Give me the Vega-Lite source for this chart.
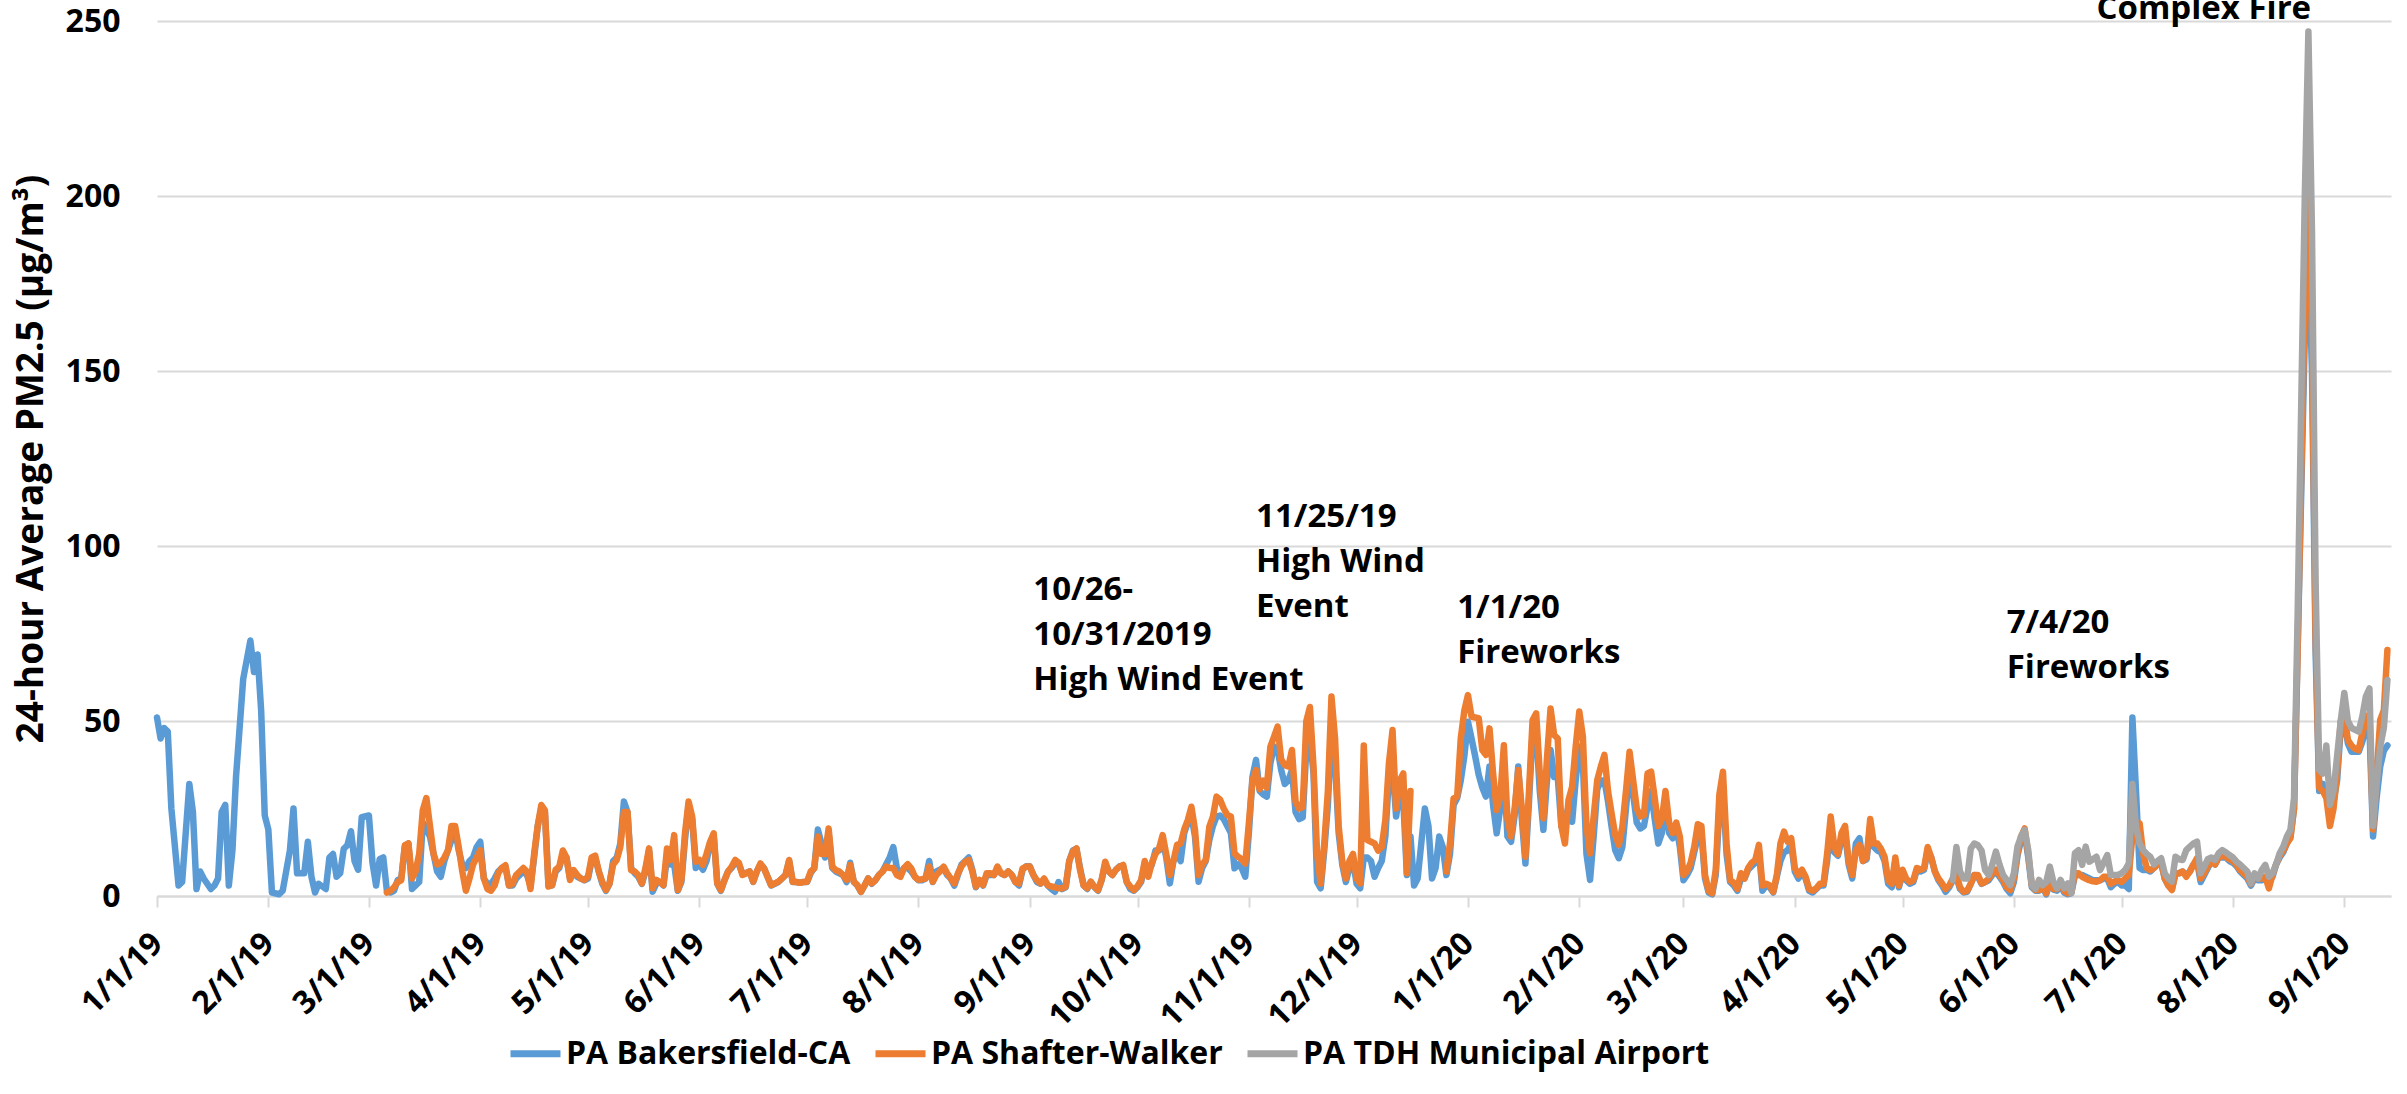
{
"$schema": "https://vega.github.io/schema/vega-lite/v6.json",
"width": 2234, "height": 875,
"autosize": {"type": "none"},
"padding": {"left": 157, "top": 21, "right": 16, "bottom": 198},
"background": "white",
"config": {"view": {"stroke": null}, "font": "Open Sans"},
"datasets": {
"pm": [
{"d":"2019-01-01T00:00","b":51},{"d":"2019-01-02T00:00","b":45},{"d":"2019-01-03T00:00","b":48},{"d":"2019-01-04T00:00","b":47},{"d":"2019-01-05T00:00","b":25},{"d":"2019-01-07T00:00","b":3},{"d":"2019-01-08T00:00","b":4},{"d":"2019-01-10T00:00","b":32},{"d":"2019-01-11T00:00","b":24},{"d":"2019-01-12T00:00","b":2},{"d":"2019-01-13T00:00","b":7},{"d":"2019-01-14T00:00","b":5},{"d":"2019-01-16T00:00","b":2},{"d":"2019-01-17T00:00","b":3},{"d":"2019-01-18T00:00","b":5},{"d":"2019-01-19T00:00","b":24},{"d":"2019-01-20T00:00","b":26},{"d":"2019-01-21T00:00","b":3},{"d":"2019-01-22T00:00","b":13},{"d":"2019-01-23T00:00","b":34},{"d":"2019-01-25T00:00","b":62},{"d":"2019-01-27T00:00","b":73},{"d":"2019-01-28T00:00","b":64},{"d":"2019-01-29T00:00","b":69},{"d":"2019-01-30T00:00","b":53},{"d":"2019-01-31T00:00","b":23},
{"d":"2019-02-01T00:00","b":19},{"d":"2019-02-02T00:00","b":1},{"d":"2019-02-04T00:00","b":0.5},{"d":"2019-02-05T00:00","b":1.5},{"d":"2019-02-07T00:00","b":13},{"d":"2019-02-08T00:00","b":25},{"d":"2019-02-09T00:00","b":6.5},{"d":"2019-02-11T00:00","b":6.5},{"d":"2019-02-12T00:00","b":15.5},{"d":"2019-02-13T00:00","b":5.5},{"d":"2019-02-14T00:00","b":1},{"d":"2019-02-15T00:00","b":3.5},{"d":"2019-02-17T00:00","b":2},{"d":"2019-02-18T00:00","b":11},{"d":"2019-02-19T00:00","b":12},{"d":"2019-02-20T00:00","b":5.5},{"d":"2019-02-21T00:00","b":6.5},{"d":"2019-02-22T00:00","b":13.5},{"d":"2019-02-23T00:00","b":14.5},{"d":"2019-02-24T00:00","b":18.5},{"d":"2019-02-25T00:00","b":10},{"d":"2019-02-26T00:00","b":7.5},{"d":"2019-02-27T00:00","b":22.5},
{"d":"2019-03-01T00:00","b":23},{"d":"2019-03-02T00:00","b":9.5},{"d":"2019-03-03T00:00","b":3},{"d":"2019-03-04T00:00","b":10.5},{"d":"2019-03-05T00:00","b":11},{"d":"2019-03-06T00:00","b":1.5,"s":1},{"d":"2019-03-07T00:00","b":1,"s":1.5},{"d":"2019-03-08T00:00","b":1.5,"s":2.5},{"d":"2019-03-09T00:00","b":4.5,"s":4},{"d":"2019-03-10T00:00","b":5,"s":4.5},{"d":"2019-03-11T00:00","b":14,"s":14.5},{"d":"2019-03-12T00:00","b":15,"s":15},{"d":"2019-03-13T00:00","b":2,"s":5},{"d":"2019-03-14T00:00","b":3,"s":7},{"d":"2019-03-15T00:00","b":4,"s":12},{"d":"2019-03-16T00:00","b":21,"s":24.5},{"d":"2019-03-17T00:00","b":19,"s":28},{"d":"2019-03-18T00:00","b":17,"s":20},{"d":"2019-03-19T00:00","b":12,"s":12},{"d":"2019-03-20T00:00","b":7,"s":9},{"d":"2019-03-21T00:00","b":5.5,"s":9.5},{"d":"2019-03-22T00:00","b":10,"s":11},{"d":"2019-03-23T00:00","b":13,"s":13},{"d":"2019-03-24T00:00","b":16,"s":20},{"d":"2019-03-25T00:00","b":19,"s":20},{"d":"2019-03-26T00:00","b":13,"s":14},{"d":"2019-03-27T00:00","b":9,"s":7},{"d":"2019-03-28T00:00","b":8,"s":1.5},{"d":"2019-03-29T00:00","b":10,"s":5},{"d":"2019-03-30T00:00","b":11,"s":9},{"d":"2019-03-31T00:00","b":14,"s":11},
{"d":"2019-04-01T00:00","b":15.5,"s":13},{"d":"2019-04-02T00:00","b":5,"s":5},{"d":"2019-04-03T00:00","b":3.5,"s":2},{"d":"2019-04-04T00:00","b":3.5,"s":1.5},{"d":"2019-04-05T00:00","b":5,"s":3},{"d":"2019-04-06T00:00","b":7,"s":6.5},{"d":"2019-04-07T00:00","b":8,"s":8},{"d":"2019-04-08T00:00","b":8.5,"s":8.8},{"d":"2019-04-09T00:00","b":3,"s":3},{"d":"2019-04-10T00:00","b":3,"s":3.5},{"d":"2019-04-11T00:00","b":5,"s":6},{"d":"2019-04-12T00:00","b":6,"s":7},{"d":"2019-04-13T00:00","b":7,"s":8},{"d":"2019-04-14T00:00","b":6,"s":7},{"d":"2019-04-15T00:00","b":3,"s":2},{"d":"2019-04-16T00:00","b":11,"s":12},{"d":"2019-04-17T00:00","b":20,"s":20},{"d":"2019-04-18T00:00","b":25,"s":26},{"d":"2019-04-19T00:00","b":24,"s":24.5},{"d":"2019-04-20T00:00","b":3,"s":2.7},{"d":"2019-04-21T00:00","b":3,"s":3.1},{"d":"2019-04-22T00:00","b":7,"s":7.5},{"d":"2019-04-23T00:00","b":8,"s":8.4},{"d":"2019-04-24T00:00","b":12,"s":13},{"d":"2019-04-25T00:00","b":11,"s":11},{"d":"2019-04-26T00:00","b":5,"s":4.6},{"d":"2019-04-27T00:00","b":6.5,"s":7.4},{"d":"2019-04-28T00:00","b":5.5,"s":6},{"d":"2019-04-29T00:00","b":5,"s":5},{"d":"2019-04-30T00:00","b":4.5,"s":4.6},
{"d":"2019-05-01T00:00","b":5,"s":5.5},{"d":"2019-05-02T00:00","b":10,"s":11},{"d":"2019-05-03T00:00","b":11,"s":11.5},{"d":"2019-05-04T00:00","b":7,"s":7},{"d":"2019-05-05T00:00","b":3.5,"s":4},{"d":"2019-05-06T00:00","b":1.5,"s":1.7},{"d":"2019-05-07T00:00","b":3.5,"s":3.6},{"d":"2019-05-08T00:00","b":10,"s":9},{"d":"2019-05-09T00:00","b":11,"s":10.3},{"d":"2019-05-10T00:00","b":15,"s":14},{"d":"2019-05-11T00:00","b":27,"s":24},{"d":"2019-05-12T00:00","b":24,"s":24},{"d":"2019-05-13T00:00","b":8,"s":7.4},{"d":"2019-05-14T00:00","b":6.5,"s":7},{"d":"2019-05-15T00:00","b":5.5,"s":6},{"d":"2019-05-16T00:00","b":3.5,"s":3.6},{"d":"2019-05-17T00:00","b":7,"s":8},{"d":"2019-05-18T00:00","b":13,"s":13.6},{"d":"2019-05-19T00:00","b":1.2,"s":2.2},{"d":"2019-05-20T00:00","b":3.5,"s":4.6},{"d":"2019-05-21T00:00","b":4,"s":4},{"d":"2019-05-22T00:00","b":3,"s":3.1},{"d":"2019-05-23T00:00","b":11,"s":13.6},{"d":"2019-05-24T00:00","b":9,"s":10.3},{"d":"2019-05-25T00:00","b":9,"s":17.4},{"d":"2019-05-26T00:00","b":1.5,"s":1.7},{"d":"2019-05-27T00:00","b":4,"s":4.6},{"d":"2019-05-28T00:00","b":16,"s":17.9},{"d":"2019-05-29T00:00","b":26,"s":27},{"d":"2019-05-30T00:00","b":22,"s":22.7},{"d":"2019-05-31T00:00","b":8,"s":9.8},
{"d":"2019-06-01T00:00","b":9,"s":10.3},{"d":"2019-06-02T00:00","b":7.5,"s":8.9},{"d":"2019-06-03T00:00","b":10,"s":12},{"d":"2019-06-04T00:00","b":15,"s":15.5},{"d":"2019-06-05T00:00","b":17,"s":17.9},{"d":"2019-06-06T00:00","b":3.5,"s":3.6},{"d":"2019-06-07T00:00","b":1.5,"s":1.7},{"d":"2019-06-08T00:00","b":4.5,"s":4.5},{"d":"2019-06-09T00:00","b":7,"s":7},{"d":"2019-06-10T00:00","b":8,"s":8.4},{"d":"2019-06-11T00:00","b":9.5,"s":10.3},{"d":"2019-06-12T00:00","b":9,"s":9.5},{"d":"2019-06-13T00:00","b":6.5,"s":6},{"d":"2019-06-14T00:00","b":6.5,"s":6.5},{"d":"2019-06-15T00:00","b":7,"s":7},{"d":"2019-06-16T00:00","b":4,"s":4.1},{"d":"2019-06-17T00:00","b":7,"s":7},{"d":"2019-06-18T00:00","b":9,"s":9.3},{"d":"2019-06-19T00:00","b":8,"s":7.9},{"d":"2019-06-20T00:00","b":5.5,"s":5.5},{"d":"2019-06-21T00:00","b":3,"s":3.1},{"d":"2019-06-22T00:00","b":3.5,"s":3.6},{"d":"2019-06-23T00:00","b":4,"s":4.1},{"d":"2019-06-24T00:00","b":5,"s":5},{"d":"2019-06-25T00:00","b":6,"s":6},{"d":"2019-06-26T00:00","b":10,"s":10.3},{"d":"2019-06-27T00:00","b":4,"s":4.1},{"d":"2019-06-28T00:00","b":4,"s":4},{"d":"2019-06-29T00:00","b":3.8,"s":3.8},{"d":"2019-06-30T00:00","b":4,"s":4},
{"d":"2019-07-01T00:00","b":4,"s":4.1},{"d":"2019-07-02T00:00","b":6.5,"s":7},{"d":"2019-07-03T00:00","b":8,"s":7.9},{"d":"2019-07-04T00:00","b":19,"s":17},{"d":"2019-07-05T00:00","b":15,"s":12},{"d":"2019-07-06T00:00","b":11,"s":12},{"d":"2019-07-07T00:00","b":18,"s":19.3},{"d":"2019-07-08T00:00","b":8,"s":8.4},{"d":"2019-07-09T00:00","b":7,"s":7.4},{"d":"2019-07-10T00:00","b":6.5,"s":7},{"d":"2019-07-11T00:00","b":6,"s":6},{"d":"2019-07-12T00:00","b":4,"s":4.6},{"d":"2019-07-13T00:00","b":9.5,"s":8.9},{"d":"2019-07-14T00:00","b":4,"s":4.1},{"d":"2019-07-15T00:00","b":3,"s":3.1},{"d":"2019-07-16T00:00","b":1.2,"s":1.2},{"d":"2019-07-17T00:00","b":3,"s":3},{"d":"2019-07-18T00:00","b":5,"s":5},{"d":"2019-07-19T00:00","b":3.5,"s":3.6},{"d":"2019-07-20T00:00","b":4.5,"s":4.5},{"d":"2019-07-21T00:00","b":6,"s":6},{"d":"2019-07-22T00:00","b":7,"s":7},{"d":"2019-07-23T00:00","b":9,"s":8.4},{"d":"2019-07-24T00:00","b":11,"s":8},{"d":"2019-07-25T00:00","b":14,"s":8},{"d":"2019-07-26T00:00","b":8,"s":6},{"d":"2019-07-27T00:00","b":6,"s":5.5},{"d":"2019-07-28T00:00","b":8,"s":8},{"d":"2019-07-29T00:00","b":8,"s":9.1},{"d":"2019-07-30T00:00","b":7,"s":7.9},{"d":"2019-07-31T00:00","b":5.5,"s":5.5},
{"d":"2019-08-01T00:00","b":4.5,"s":4.6},{"d":"2019-08-02T00:00","b":4.5,"s":4.8},{"d":"2019-08-03T00:00","b":5,"s":5},{"d":"2019-08-04T00:00","b":10,"s":8.4},{"d":"2019-08-05T00:00","b":4,"s":4.1},{"d":"2019-08-06T00:00","b":7,"s":6},{"d":"2019-08-07T00:00","b":7.5,"s":7},{"d":"2019-08-08T00:00","b":8,"s":8.4},{"d":"2019-08-09T00:00","b":6,"s":6.5},{"d":"2019-08-10T00:00","b":5,"s":5},{"d":"2019-08-11T00:00","b":3,"s":3.6},{"d":"2019-08-12T00:00","b":6,"s":6.5},{"d":"2019-08-13T00:00","b":9,"s":8.5},{"d":"2019-08-14T00:00","b":10,"s":9.8},{"d":"2019-08-15T00:00","b":11,"s":10.3},{"d":"2019-08-16T00:00","b":7.5,"s":7},{"d":"2019-08-17T00:00","b":2.5,"s":2.7},{"d":"2019-08-18T00:00","b":4.5,"s":4.6},{"d":"2019-08-19T00:00","b":3,"s":3.1},{"d":"2019-08-20T00:00","b":6,"s":6.5},{"d":"2019-08-21T00:00","b":6,"s":6.5},{"d":"2019-08-22T00:00","b":6,"s":6},{"d":"2019-08-23T00:00","b":7.5,"s":8.4},{"d":"2019-08-24T00:00","b":6.5,"s":6.5},{"d":"2019-08-25T00:00","b":6,"s":6},{"d":"2019-08-26T00:00","b":7,"s":7},{"d":"2019-08-27T00:00","b":6,"s":6},{"d":"2019-08-28T00:00","b":4,"s":4},{"d":"2019-08-29T00:00","b":3,"s":3.6},{"d":"2019-08-30T00:00","b":7.5,"s":7.9},{"d":"2019-08-31T00:00","b":8.5,"s":8.4},
{"d":"2019-09-01T00:00","b":8.5,"s":8.4},{"d":"2019-09-02T00:00","b":6,"s":6},{"d":"2019-09-03T00:00","b":4,"s":4.5},{"d":"2019-09-04T00:00","b":3.5,"s":3.6},{"d":"2019-09-05T00:00","b":4.5,"s":5},{"d":"2019-09-06T00:00","b":3,"s":3.1},{"d":"2019-09-07T00:00","b":2,"s":2.7},{"d":"2019-09-08T00:00","b":1.2,"s":2.5},{"d":"2019-09-09T00:00","b":4,"s":2.2},{"d":"2019-09-10T00:00","b":2,"s":2.2},{"d":"2019-09-11T00:00","b":2.5,"s":2.7},{"d":"2019-09-12T00:00","b":10,"s":10},{"d":"2019-09-13T00:00","b":13,"s":12.7},{"d":"2019-09-14T00:00","b":13.5,"s":13.6},{"d":"2019-09-15T00:00","b":8,"s":7.4},{"d":"2019-09-16T00:00","b":3,"s":3},{"d":"2019-09-17T00:00","b":2,"s":2.2},{"d":"2019-09-18T00:00","b":4,"s":4.1},{"d":"2019-09-19T00:00","b":2.5,"s":2.7},{"d":"2019-09-20T00:00","b":1.5,"s":1.7},{"d":"2019-09-21T00:00","b":4.5,"s":4.6},{"d":"2019-09-22T00:00","b":9,"s":9.8},{"d":"2019-09-23T00:00","b":7,"s":7},{"d":"2019-09-24T00:00","b":6,"s":6},{"d":"2019-09-25T00:00","b":7.5,"s":7.5},{"d":"2019-09-26T00:00","b":8.5,"s":8.4},{"d":"2019-09-27T00:00","b":8.5,"s":8.9},{"d":"2019-09-28T00:00","b":4,"s":4},{"d":"2019-09-29T00:00","b":2,"s":2.7},{"d":"2019-09-30T00:00","b":1.5,"s":1.7},
{"d":"2019-10-01T00:00","b":2.5,"s":2.8},{"d":"2019-10-02T00:00","b":4,"s":4.5},{"d":"2019-10-03T00:00","b":9,"s":10},{"d":"2019-10-04T00:00","b":7,"s":5.5},{"d":"2019-10-05T00:00","b":9,"s":9.5},{"d":"2019-10-06T00:00","b":13,"s":12},{"d":"2019-10-07T00:00","b":13,"s":13.6},{"d":"2019-10-08T00:00","b":16,"s":17.4},{"d":"2019-10-09T00:00","b":11,"s":12},{"d":"2019-10-10T00:00","b":3.6,"s":6},{"d":"2019-10-11T00:00","b":10,"s":10},{"d":"2019-10-12T00:00","b":12,"s":14.6},{"d":"2019-10-13T00:00","b":10,"s":15},{"d":"2019-10-14T00:00","b":18,"s":19},{"d":"2019-10-15T00:00","b":21,"s":21.7},{"d":"2019-10-16T00:00","b":23,"s":25.5},{"d":"2019-10-17T00:00","b":17,"s":18.9},{"d":"2019-10-18T00:00","b":4.1,"s":6},{"d":"2019-10-19T00:00","b":8,"s":9},{"d":"2019-10-20T00:00","b":10,"s":10.3},{"d":"2019-10-21T00:00","b":16,"s":19.8},{"d":"2019-10-22T00:00","b":20,"s":22.7},{"d":"2019-10-23T00:00","b":22.7,"s":28.4},{"d":"2019-10-24T00:00","b":23,"s":27.5},{"d":"2019-10-25T00:00","b":22,"s":25},{"d":"2019-10-26T00:00","b":20,"s":23.1},{"d":"2019-10-27T00:00","b":18,"s":22.7},{"d":"2019-10-28T00:00","b":7.9,"s":12.2},{"d":"2019-10-29T00:00","b":9,"s":11.2},{"d":"2019-10-30T00:00","b":8,"s":10.5},{"d":"2019-10-31T00:00","b":5.5,"s":9.3},
{"d":"2019-11-01T00:00","b":18,"s":20.8},{"d":"2019-11-02T00:00","b":34,"s":33},{"d":"2019-11-03T00:00","b":38.9,"s":36},{"d":"2019-11-04T00:00","b":30,"s":30.5},{"d":"2019-11-05T00:00","b":29,"s":33},{"d":"2019-11-06T00:00","b":28.4,"s":31},{"d":"2019-11-07T00:00","b":38,"s":42.7},{"d":"2019-11-08T00:00","b":42.7,"s":45.5},{"d":"2019-11-09T00:00","b":42,"s":48.4},{"d":"2019-11-10T00:00","b":36,"s":39},{"d":"2019-11-11T00:00","b":32,"s":37.4},{"d":"2019-11-12T00:00","b":33,"s":37},{"d":"2019-11-13T00:00","b":36,"s":41.7},{"d":"2019-11-14T00:00","b":24,"s":27},{"d":"2019-11-15T00:00","b":22,"s":25},{"d":"2019-11-16T00:00","b":22.5,"s":25.5},{"d":"2019-11-17T00:00","b":42,"s":50},{"d":"2019-11-18T00:00","b":45.5,"s":54},{"d":"2019-11-19T00:00","b":35,"s":37},{"d":"2019-11-20T00:00","b":4,"s":12},{"d":"2019-11-21T00:00","b":2.2,"s":3.6},{"d":"2019-11-22T00:00","b":13,"s":15},{"d":"2019-11-23T00:00","b":26,"s":30},{"d":"2019-11-24T00:00","b":48,"s":57},{"d":"2019-11-25T00:00","b":38,"s":45},{"d":"2019-11-26T00:00","b":18,"s":20},{"d":"2019-11-27T00:00","b":9,"s":10},{"d":"2019-11-28T00:00","b":4,"s":5},{"d":"2019-11-29T00:00","b":8,"s":10},{"d":"2019-11-30T00:00","b":10,"s":12},
{"d":"2019-12-01T00:00","b":3.5,"s":5},{"d":"2019-12-02T00:00","b":2.2,"s":3.6},{"d":"2019-12-03T00:00","b":11,"s":43},{"d":"2019-12-04T00:00","b":11,"s":16},{"d":"2019-12-05T00:00","b":10,"s":15.5},{"d":"2019-12-06T00:00","b":5.5,"s":15},{"d":"2019-12-07T00:00","b":8,"s":13},{"d":"2019-12-08T00:00","b":10,"s":14},{"d":"2019-12-09T00:00","b":17,"s":21.7},{"d":"2019-12-10T00:00","b":34,"s":38},{"d":"2019-12-11T00:00","b":37,"s":47.4},{"d":"2019-12-12T00:00","b":22.7,"s":25},{"d":"2019-12-13T00:00","b":30,"s":33},{"d":"2019-12-14T00:00","b":27,"s":35},{"d":"2019-12-15T00:00","b":6,"s":6.5},{"d":"2019-12-16T00:00","b":17,"s":30},{"d":"2019-12-17T00:00","b":3,"s":null},{"d":"2019-12-18T00:00","b":5},{"d":"2019-12-19T00:00","b":15},{"d":"2019-12-20T00:00","b":25},{"d":"2019-12-21T00:00","b":20},{"d":"2019-12-22T00:00","b":5},{"d":"2019-12-23T00:00","b":8},{"d":"2019-12-24T00:00","b":17},{"d":"2019-12-25T00:00","b":14,"s":null},{"d":"2019-12-26T00:00","b":6,"s":7},{"d":"2019-12-27T00:00","b":12,"s":15},{"d":"2019-12-28T00:00","b":26,"s":27.9},{"d":"2019-12-29T00:00","b":28,"s":28.4},{"d":"2019-12-30T00:00","b":33,"s":45},{"d":"2019-12-31T00:00","b":40,"s":53},
{"d":"2020-01-01T00:00","b":49.8,"s":57.4},{"d":"2020-01-02T00:00","b":45,"s":51.2},{"d":"2020-01-03T00:00","b":40,"s":51},{"d":"2020-01-04T00:00","b":34.6,"s":50.8},{"d":"2020-01-05T00:00","b":31,"s":41.7},{"d":"2020-01-06T00:00","b":28.4,"s":40.3},{"d":"2020-01-07T00:00","b":37,"s":47.9},{"d":"2020-01-08T00:00","b":26,"s":35},{"d":"2020-01-09T00:00","b":17.9,"s":24.6},{"d":"2020-01-10T00:00","b":25,"s":28.4},{"d":"2020-01-11T00:00","b":36,"s":43.1},{"d":"2020-01-12T00:00","b":17,"s":22},{"d":"2020-01-13T00:00","b":15.5,"s":17},{"d":"2020-01-14T00:00","b":23,"s":25},{"d":"2020-01-15T00:00","b":37,"s":36},{"d":"2020-01-16T00:00","b":22,"s":25},{"d":"2020-01-17T00:00","b":9.3,"s":11.2},{"d":"2020-01-18T00:00","b":27,"s":30},{"d":"2020-01-19T00:00","b":47,"s":50.3},{"d":"2020-01-20T00:00","b":47,"s":52.2},{"d":"2020-01-21T00:00","b":30,"s":35},{"d":"2020-01-22T00:00","b":18.9,"s":22.2},{"d":"2020-01-23T00:00","b":33,"s":39.3},{"d":"2020-01-24T00:00","b":41.7,"s":53.6},{"d":"2020-01-25T00:00","b":34,"s":46},{"d":"2020-01-26T00:00","b":34,"s":45},{"d":"2020-01-27T00:00","b":20,"s":20},{"d":"2020-01-28T00:00","b":21.7,"s":15},{"d":"2020-01-29T00:00","b":25.5,"s":27.4},{"d":"2020-01-30T00:00","b":21.2,"s":31.2},{"d":"2020-01-31T00:00","b":33,"s":42.7},
{"d":"2020-02-01T00:00","b":42.7,"s":52.7},{"d":"2020-02-02T00:00","b":38,"s":45.5},{"d":"2020-02-03T00:00","b":12,"s":20},{"d":"2020-02-04T00:00","b":4.6,"s":12.2},{"d":"2020-02-05T00:00","b":17,"s":22.7},{"d":"2020-02-06T00:00","b":30.5,"s":33.1},{"d":"2020-02-07T00:00","b":33,"s":37},{"d":"2020-02-08T00:00","b":33,"s":40.3},{"d":"2020-02-09T00:00","b":27,"s":30},{"d":"2020-02-10T00:00","b":19.8,"s":23.6},{"d":"2020-02-11T00:00","b":13.1,"s":17.4},{"d":"2020-02-12T00:00","b":10.8,"s":14.6},{"d":"2020-02-13T00:00","b":14,"s":19.8},{"d":"2020-02-14T00:00","b":25,"s":30},{"d":"2020-02-15T00:00","b":36,"s":41.2},{"d":"2020-02-16T00:00","b":29,"s":33},{"d":"2020-02-17T00:00","b":21,"s":25},{"d":"2020-02-18T00:00","b":19.3,"s":22.7},{"d":"2020-02-19T00:00","b":20,"s":23.1},{"d":"2020-02-20T00:00","b":25.5,"s":35},{"d":"2020-02-21T00:00","b":30,"s":35.5},{"d":"2020-02-22T00:00","b":22,"s":28},{"d":"2020-02-23T00:00","b":15,"s":20},{"d":"2020-02-24T00:00","b":18,"s":22},{"d":"2020-02-25T00:00","b":28,"s":30},{"d":"2020-02-26T00:00","b":18,"s":21},{"d":"2020-02-27T00:00","b":16.5,"s":18},{"d":"2020-02-28T00:00","b":20,"s":21},{"d":"2020-02-29T00:00","b":14,"s":17},
{"d":"2020-03-01T00:00","b":4.5,"s":6},{"d":"2020-03-02T00:00","b":6,"s":7},{"d":"2020-03-03T00:00","b":8,"s":9.5},{"d":"2020-03-04T00:00","b":12.5,"s":14},{"d":"2020-03-05T00:00","b":17,"s":20.5},{"d":"2020-03-06T00:00","b":18,"s":20},{"d":"2020-03-07T00:00","b":5,"s":6},{"d":"2020-03-08T00:00","b":1,"s":1.5},{"d":"2020-03-09T00:00","b":0.5,"s":0.8},{"d":"2020-03-10T00:00","b":6,"s":7.5},{"d":"2020-03-11T00:00","b":25,"s":29},{"d":"2020-03-12T00:00","b":30,"s":35.5},{"d":"2020-03-13T00:00","b":12,"s":15},{"d":"2020-03-14T00:00","b":4,"s":4.5},{"d":"2020-03-15T00:00","b":3,"s":3.8},{"d":"2020-03-16T00:00","b":1.5,"s":2},{"d":"2020-03-17T00:00","b":5,"s":6.5},{"d":"2020-03-18T00:00","b":5,"s":5},{"d":"2020-03-19T00:00","b":7.5,"s":8},{"d":"2020-03-20T00:00","b":8.5,"s":9.5},{"d":"2020-03-21T00:00","b":9.5,"s":10.3},{"d":"2020-03-22T00:00","b":13,"s":14.6},{"d":"2020-03-23T00:00","b":1.5,"s":3},{"d":"2020-03-24T00:00","b":3,"s":3.5},{"d":"2020-03-25T00:00","b":2.5,"s":3},{"d":"2020-03-26T00:00","b":1,"s":1.2},{"d":"2020-03-27T00:00","b":5.5,"s":6},{"d":"2020-03-28T00:00","b":10,"s":15},{"d":"2020-03-29T00:00","b":12.5,"s":18.4},{"d":"2020-03-30T00:00","b":13,"s":15.5},{"d":"2020-03-31T00:00","b":15,"s":16.5},
{"d":"2020-04-01T00:00","b":7,"s":8},{"d":"2020-04-02T00:00","b":5,"s":6},{"d":"2020-04-03T00:00","b":6.5,"s":7.5},{"d":"2020-04-04T00:00","b":5,"s":5.5},{"d":"2020-04-05T00:00","b":1.5,"s":2},{"d":"2020-04-06T00:00","b":1,"s":1.5},{"d":"2020-04-07T00:00","b":2,"s":2.2},{"d":"2020-04-08T00:00","b":3,"s":3.5},{"d":"2020-04-09T00:00","b":3,"s":3.5},{"d":"2020-04-10T00:00","b":10,"s":12},{"d":"2020-04-11T00:00","b":20,"s":22.7},{"d":"2020-04-12T00:00","b":12.5,"s":14},{"d":"2020-04-13T00:00","b":11.5,"s":12},{"d":"2020-04-14T00:00","b":16,"s":18},{"d":"2020-04-15T00:00","b":18,"s":20},{"d":"2020-04-16T00:00","b":9,"s":10},{"d":"2020-04-17T00:00","b":5,"s":6},{"d":"2020-04-18T00:00","b":15,"s":13},{"d":"2020-04-19T00:00","b":16.5,"s":14.6},{"d":"2020-04-20T00:00","b":10,"s":10},{"d":"2020-04-21T00:00","b":10.5,"s":11},{"d":"2020-04-22T00:00","b":20,"s":22},{"d":"2020-04-23T00:00","b":14,"s":15},{"d":"2020-04-24T00:00","b":13,"s":15},{"d":"2020-04-25T00:00","b":12.5,"s":13.5},{"d":"2020-04-26T00:00","b":10,"s":11.2},{"d":"2020-04-27T00:00","b":3.5,"s":4.5},{"d":"2020-04-28T00:00","b":2.5,"s":3.5},{"d":"2020-04-29T00:00","b":10,"s":11},{"d":"2020-04-30T00:00","b":2.5,"s":3},
{"d":"2020-05-01T00:00","b":6.5,"s":7.5},{"d":"2020-05-02T00:00","b":4.5,"s":5},{"d":"2020-05-03T00:00","b":3.5,"s":4},{"d":"2020-05-04T00:00","b":4,"s":4.5},{"d":"2020-05-05T00:00","b":7.5,"s":8},{"d":"2020-05-06T00:00","b":7,"s":7.5},{"d":"2020-05-07T00:00","b":7.5,"s":8},{"d":"2020-05-08T00:00","b":13,"s":14},{"d":"2020-05-09T00:00","b":11,"s":11},{"d":"2020-05-10T00:00","b":7,"s":7},{"d":"2020-05-11T00:00","b":4.5,"s":5},{"d":"2020-05-12T00:00","b":3,"s":3.6},{"d":"2020-05-13T00:00","b":1.2,"s":2},{"d":"2020-05-14T00:00","b":2.5,"s":3},{"d":"2020-05-15T00:00","b":4.5,"s":5,"t":4.6},{"d":"2020-05-16T00:00","b":5.5,"s":6,"t":14},{"d":"2020-05-17T00:00","b":2,"s":2.5,"t":7},{"d":"2020-05-18T00:00","b":1,"s":1.2,"t":5},{"d":"2020-05-19T00:00","b":1.2,"s":1.5,"t":5},{"d":"2020-05-20T00:00","b":3.5,"s":3.5,"t":13.6},{"d":"2020-05-21T00:00","b":6,"s":6,"t":15},{"d":"2020-05-22T00:00","b":5.5,"s":6,"t":14.5},{"d":"2020-05-23T00:00","b":3.5,"s":3.6,"t":13},{"d":"2020-05-24T00:00","b":4,"s":4,"t":7.4},{"d":"2020-05-25T00:00","b":4.5,"s":5,"t":6},{"d":"2020-05-26T00:00","b":6,"s":6.5,"t":9},{"d":"2020-05-27T00:00","b":7,"s":7.5,"t":12.7},{"d":"2020-05-28T00:00","b":5.5,"s":6,"t":9},{"d":"2020-05-29T00:00","b":4,"s":4.6,"t":6},{"d":"2020-05-30T00:00","b":2,"s":2.5,"t":4.6},{"d":"2020-05-31T00:00","b":0.8,"s":1.7,"t":3.1},
{"d":"2020-06-01T00:00","b":4,"s":5,"t":6.5},{"d":"2020-06-02T00:00","b":11.5,"s":12.2,"t":14.1},{"d":"2020-06-03T00:00","b":16,"s":17,"t":17},{"d":"2020-06-04T00:00","b":18,"s":19.3,"t":18.9},{"d":"2020-06-05T00:00","b":11,"s":12,"t":13.1},{"d":"2020-06-06T00:00","b":2.5,"s":3,"t":3},{"d":"2020-06-07T00:00","b":1.5,"s":1.7,"t":2},{"d":"2020-06-08T00:00","b":1.5,"s":1.7,"t":4.6},{"d":"2020-06-09T00:00","b":2.5,"s":3,"t":3.1},{"d":"2020-06-10T00:00","b":0.5,"s":0.8,"t":4},{"d":"2020-06-11T00:00","b":4,"s":4.6,"t":8.4},{"d":"2020-06-12T00:00","b":1.8,"s":2,"t":4},{"d":"2020-06-13T00:00","b":1.5,"s":2,"t":2.2},{"d":"2020-06-14T00:00","b":3,"s":3.5,"t":4.6},{"d":"2020-06-15T00:00","b":1,"s":1.5,"t":2.2},{"d":"2020-06-16T00:00","b":0.5,"s":0.8,"t":3.6},{"d":"2020-06-17T00:00","b":0.8,"s":1,"t":0.8},{"d":"2020-06-18T00:00","b":6,"s":6.5,"t":12.2},{"d":"2020-06-19T00:00","b":6,"s":6.5,"t":13.1},{"d":"2020-06-20T00:00","b":6,"s":5.5,"t":8.9},{"d":"2020-06-21T00:00","b":5.5,"s":5,"t":14.1},{"d":"2020-06-22T00:00","b":5,"s":4.5,"t":9.8},{"d":"2020-06-23T00:00","b":4.5,"s":4.2,"t":10.5},{"d":"2020-06-24T00:00","b":4.5,"s":4.1,"t":11.2},{"d":"2020-06-25T00:00","b":4.5,"s":4.5,"t":7.4},{"d":"2020-06-26T00:00","b":5,"s":5.5,"t":9.5},{"d":"2020-06-27T00:00","b":5,"s":5.5,"t":11.7},{"d":"2020-06-28T00:00","b":2.5,"s":3.5,"t":6},{"d":"2020-06-29T00:00","b":3.5,"s":4.1,"t":6},{"d":"2020-06-30T00:00","b":4,"s":4.5,"t":6},
{"d":"2020-07-01T00:00","b":3,"s":4,"t":6.5},{"d":"2020-07-02T00:00","b":3,"s":5,"t":7.5},{"d":"2020-07-03T00:00","b":2,"s":6,"t":9.3},{"d":"2020-07-04T00:00","b":51,"s":17,"t":32},{"d":"2020-07-05T00:00","b":30,"s":18,"t":19.8},{"d":"2020-07-06T00:00","b":8,"s":20.8,"t":15},{"d":"2020-07-07T00:00","b":7.4,"s":12,"t":13.1},{"d":"2020-07-08T00:00","b":7.5,"s":8,"t":12},{"d":"2020-07-09T00:00","b":7,"s":7.4,"t":11.2},{"d":"2020-07-10T00:00","b":8,"s":8,"t":9},{"d":"2020-07-11T00:00","b":9,"s":9,"t":10},{"d":"2020-07-12T00:00","b":9.5,"s":9.8,"t":10.8},{"d":"2020-07-13T00:00","b":5,"s":5,"t":6.5},{"d":"2020-07-14T00:00","b":3,"s":3,"t":5},{"d":"2020-07-15T00:00","b":2,"s":1.7,"t":4.1},{"d":"2020-07-16T00:00","b":6.5,"s":6.5,"t":11.2},{"d":"2020-07-17T00:00","b":6.5,"s":6.5,"t":10.5},{"d":"2020-07-18T00:00","b":7,"s":7,"t":10.3},{"d":"2020-07-19T00:00","b":6,"s":5.5,"t":13.1},{"d":"2020-07-20T00:00","b":7,"s":7,"t":14.1},{"d":"2020-07-21T00:00","b":9,"s":9,"t":15},{"d":"2020-07-22T00:00","b":10,"s":10.8,"t":15.5},{"d":"2020-07-23T00:00","b":4,"s":5,"t":6.5},{"d":"2020-07-24T00:00","b":6,"s":6.5,"t":8.4},{"d":"2020-07-25T00:00","b":8,"s":8.5,"t":10.5},{"d":"2020-07-26T00:00","b":10,"s":10,"t":11},{"d":"2020-07-27T00:00","b":9,"s":9,"t":10.3},{"d":"2020-07-28T00:00","b":11,"s":11,"t":12.2},{"d":"2020-07-29T00:00","b":11,"s":11.5,"t":13.1},{"d":"2020-07-30T00:00","b":11,"s":11.2,"t":12.5},{"d":"2020-07-31T00:00","b":10,"s":10.5,"t":11.7},
{"d":"2020-08-01T00:00","b":9.5,"s":10,"t":11},{"d":"2020-08-02T00:00","b":8.5,"s":8.9,"t":9.8},{"d":"2020-08-03T00:00","b":7,"s":7.4,"t":9},{"d":"2020-08-04T00:00","b":6,"s":6.5,"t":8},{"d":"2020-08-05T00:00","b":5,"s":5.5,"t":7},{"d":"2020-08-06T00:00","b":3,"s":3.5,"t":3.6},{"d":"2020-08-07T00:00","b":5,"s":5.5,"t":6.5},{"d":"2020-08-08T00:00","b":4.5,"s":5,"t":5},{"d":"2020-08-09T00:00","b":4.5,"s":5,"t":7.4},{"d":"2020-08-10T00:00","b":5,"s":5.5,"t":8.9},{"d":"2020-08-11T00:00","b":4,"s":2.2,"t":5.5},{"d":"2020-08-12T00:00","b":5.5,"s":6,"t":6.5},{"d":"2020-08-13T00:00","b":9,"s":9,"t":9},{"d":"2020-08-14T00:00","b":11,"s":11.5,"t":12.2},{"d":"2020-08-15T00:00","b":12.5,"s":13,"t":14.1},{"d":"2020-08-16T00:00","b":15,"s":15,"t":17},{"d":"2020-08-17T00:00","b":17,"s":16.5,"t":18.9},{"d":"2020-08-18T00:00","b":25,"s":25,"t":28},{"d":"2020-08-19T00:00","b":70,"s":70,"t":80},{"d":"2020-08-20T00:00","b":115,"s":120,"t":140},{"d":"2020-08-21T00:00","b":160,"s":170,"t":200},{"d":"2020-08-22T00:00","b":185,"s":200,"t":247},{"d":"2020-08-23T00:00","b":150,"s":160,"t":190},{"d":"2020-08-24T00:00","b":70,"s":75,"t":90},{"d":"2020-08-25T00:00","b":30,"s":31,"t":36},{"d":"2020-08-26T00:00","b":32,"s":30,"t":35},{"d":"2020-08-27T00:00","b":30,"s":28,"t":43},{"d":"2020-08-28T00:00","b":22,"s":20,"t":26},{"d":"2020-08-29T00:00","b":27,"s":25,"t":30},{"d":"2020-08-30T00:00","b":33,"s":35,"t":40},{"d":"2020-08-31T00:00","b":48,"s":50,"t":50},
{"d":"2020-09-01T00:00","b":50,"s":52,"t":58},{"d":"2020-09-02T00:00","b":43.6,"s":44.6,"t":50},{"d":"2020-09-03T00:00","b":41.2,"s":43,"t":48},{"d":"2020-09-04T00:00","b":41.2,"s":42,"t":47.5},{"d":"2020-09-05T00:00","b":41.2,"s":41.7,"t":47},{"d":"2020-09-06T00:00","b":44,"s":46.5,"t":51.2},{"d":"2020-09-07T00:00","b":48,"s":50.8,"t":57},{"d":"2020-09-08T00:00","b":48,"s":52,"t":59.3},{"d":"2020-09-09T00:00","b":17,"s":19,"t":20},{"d":"2020-09-10T00:00","b":28,"s":35,"t":32},{"d":"2020-09-11T00:00","b":37,"s":50.3,"t":42.7},{"d":"2020-09-12T00:00","b":41.5,"s":53,"t":48},{"d":"2020-09-13T00:00","b":43,"s":70.3,"t":61.7}
],
"notes": [
{"d":"2019-09-02T00:00","v":87.4,"lines":["10/26-","10/31/2019","High Wind Event"]},
{"d":"2019-11-03T00:00","v":108.3,"lines":["11/25/19","High Wind","Event"]},
{"d":"2019-12-29T00:00","v":82.3,"lines":["1/1/20","Fireworks"]},
{"d":"2020-05-30T00:00","v":78,"lines":["7/4/20","Fireworks"]},
{"d":"2020-06-24T00:00","v":253.5,"lines":["Complex Fire"]}
]
},
"encoding": {
"x": {"field": "d", "type": "temporal",
 "scale": {"domain": [{"year": 2019, "month": 1, "date": 1}, {"year": 2020, "month": 9, "date": 14}]},
 "axis": {"title": null, "format": "%-m/%-d/%y", "tickCount": {"interval": "month", "step": 1}, "labelAngle": -45, "labelAlign": "right", "labelBaseline": "middle", "labelPadding": 31, "tickSize": 11, "tickColor": "#d9d9d9", "tickWidth": 2, "domainColor": "#d9d9d9", "domainWidth": 2, "grid": false, "labelFont": "Open Sans", "labelFontSize": 32, "labelFontWeight": "bold", "labelColor": "#000000", "labelOverlap": false, "labelFlush": false, "labelBound": false}},
"y": {"field": "v", "type": "quantitative",
 "scale": {"domain": [0, 250]},
 "axis": {"title": "24-hour Average PM2.5 (µg/m³)", "values": [0, 50, 100, 150, 200, 250], "grid": true, "gridColor": "#d9d9d9", "gridWidth": 2, "domain": false, "ticks": false, "tickSize": 0, "labelPadding": 37, "labelFont": "Open Sans", "labelFontSize": 32, "labelFontWeight": "bold", "labelColor": "#000000", "titleFont": "Open Sans", "titleFontSize": 37, "titleFontWeight": "bold", "titleColor": "#000000", "titleX": -126, "titleY": 437.5, "titleAngle": 270, "titleAlign": "center", "titleBaseline": "middle"}}
},
"layer": [
{"data": {"name": "pm"}, "transform": [{"fold": ["b", "s", "t"], "as": ["k", "v"]}, {"filter": "datum.k == 'b'"}],
 "mark": {"type": "line", "strokeWidth": 6.5, "strokeCap": "round", "strokeJoin": "round", "invalid": "break-paths-show-domains"},
 "encoding": {"color": {"field": "k", "type": "nominal", "scale": {"domain": ["b", "s", "t"], "range": ["#5B9BD5", "#ED7D31", "#A5A5A5"]},
  "legend": {"title": null, "orient": "none", "legendX": 350, "legendY": 1004, "direction": "horizontal", "symbolType": "stroke", "symbolStrokeWidth": 7, "symbolSize": 2500, "labelFont": "Open Sans", "labelFontSize": 32, "labelFontWeight": "bold", "labelColor": "#000000", "labelOffset": 2, "columnPadding": 10, "labelLimit": 0, "labelExpr": "datum.label == 'b' ? 'PA Bakersfield-CA' : datum.label == 's' ? 'PA Shafter-Walker' : 'PA TDH Municipal Airport'"}}}},
{"data": {"name": "pm"}, "transform": [{"fold": ["b", "s", "t"], "as": ["k", "v"]}, {"filter": "datum.k == 's'"}],
 "mark": {"type": "line", "strokeWidth": 6.5, "strokeCap": "round", "strokeJoin": "round", "invalid": "break-paths-show-domains"},
 "encoding": {"color": {"field": "k", "type": "nominal", "scale": {"domain": ["b", "s", "t"], "range": ["#5B9BD5", "#ED7D31", "#A5A5A5"]}}}},
{"data": {"name": "pm"}, "transform": [{"fold": ["b", "s", "t"], "as": ["k", "v"]}, {"filter": "datum.k == 't'"}],
 "mark": {"type": "line", "strokeWidth": 6.5, "strokeCap": "round", "strokeJoin": "round", "invalid": "break-paths-show-domains"},
 "encoding": {"color": {"field": "k", "type": "nominal", "scale": {"domain": ["b", "s", "t"], "range": ["#5B9BD5", "#ED7D31", "#A5A5A5"]}}}},
{"data": {"name": "notes"},
 "mark": {"type": "text", "align": "left", "baseline": "middle", "font": "Open Sans", "fontSize": 33, "fontWeight": "bold", "lineHeight": 45, "color": "#000000"},
 "encoding": {"text": {"field": "lines"}}}
]
}
